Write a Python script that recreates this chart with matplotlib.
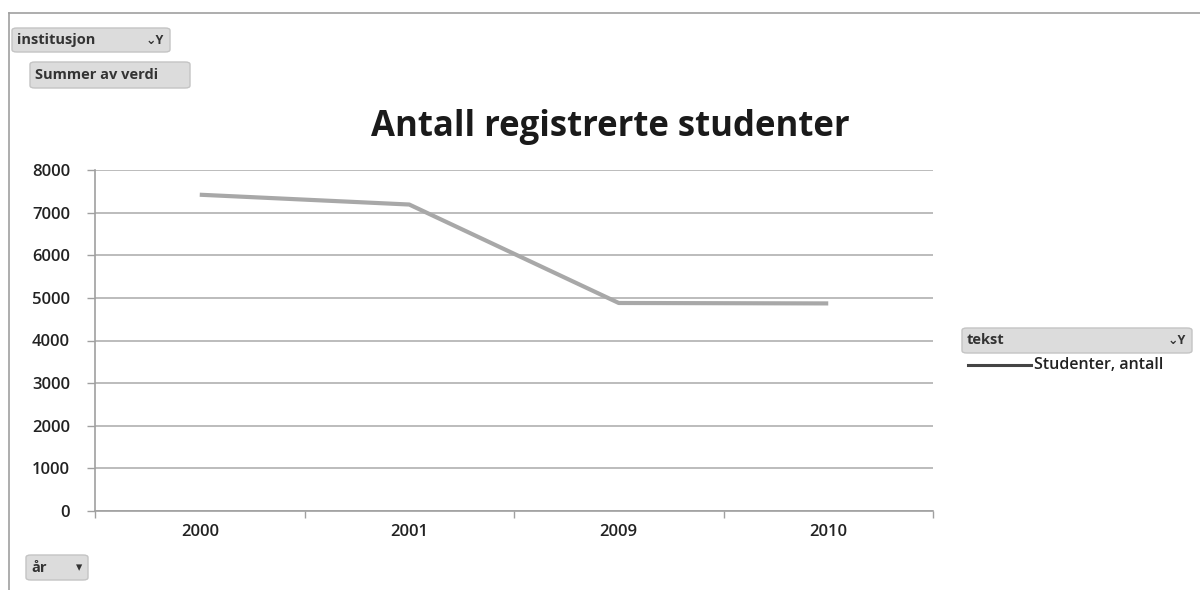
import matplotlib.pyplot as plt
import numpy as np
from matplotlib.patches import FancyBboxPatch
from matplotlib.lines import Line2D

# registrerte studenter per år
years = ["2000", "2001", "2009", "2010"]
students = [7420, 7190, 4880, 4870]
y_ticks = [0, 1000, 2000, 3000, 4000, 5000, 6000, 7000, 8000]

W, H = 1200, 590
fig = plt.figure(figsize=(W / 100, H / 100), dpi=100)
plt.rcParams['font.family'] = ['Open Sans', 'DejaVu Sans']

def fx(px):
    return px / W

def fy(py):
    return 1 - py / H

ax = fig.add_axes([fx(95), fy(511), fx(933 - 95), (511 - 170) / H])

xx = np.arange(len(years))
ax.plot(xx, students, color="#a8a8a8", linewidth=3.0, solid_capstyle="butt", zorder=3)

ax.set_xlim(-0.5, len(years) - 0.5)
ax.set_ylim(0, 8000)
ax.set_yticks(y_ticks)
ax.set_yticklabels([str(v) for v in y_ticks], fontsize=12, color="#222222", fontweight="semibold")
ax.set_xticks(xx)
ax.set_xticklabels(years, fontsize=12, color="#222222", fontweight="semibold")
ax.set_xticks(np.arange(len(years) + 1) - 0.5, minor=True)
ax.tick_params(axis="x", which="major", length=0, pad=9)
ax.tick_params(axis="x", which="minor", length=5, color="#a0a0a0", width=1)
ax.tick_params(axis="y", length=6, color="#a0a0a0", width=1, pad=12)

ax.yaxis.grid(True, color="#b0b0b0", linewidth=1.2)
ax.set_axisbelow(True)
for s in ["top", "right"]:
    ax.spines[s].set_visible(False)
for s in ["left", "bottom"]:
    ax.spines[s].set_color("#a0a0a0")
    ax.spines[s].set_linewidth(1.2)

fig.text(fx(610), fy(127), "Antall registrerte studenter", ha="center", va="center",
         fontsize=25, fontweight="bold", color="#1a1a1a")

# ramme rundt diagrammet
fig.add_artist(Line2D([fx(9), fx(9)], [fy(13), fy(590)], color="#a0a0a0", linewidth=1.2))
fig.add_artist(Line2D([fx(9), fx(1200)], [fy(13), fy(13)], color="#a0a0a0", linewidth=1.2))

def button(x0, y0, x1, y1, label, arrow=None):
    box = FancyBboxPatch((fx(x0), fy(y1)), fx(x1 - x0), (y1 - y0) / H,
                         boxstyle="round,pad=0,rounding_size=0.004",
                         facecolor="#dcdcdc", edgecolor="#c4c4c4", linewidth=1,
                         transform=fig.transFigure)
    fig.add_artist(box)
    fig.text(fx(x0 + 5), fy((y0 + y1) / 2), label, ha="left", va="center",
             fontsize=10.5, fontweight="bold", color="#333333")
    if arrow:
        fig.text(fx(x1 - 6), fy((y0 + y1) / 2), arrow, ha="right", va="center",
                 fontsize=9, fontweight="bold", color="#333333")

button(12, 28, 170, 52, "institusjon", "⌄Y")
button(30, 62, 190, 88, "Summer av verdi")
button(26, 555, 88, 580, "år", "▾")
button(962, 328, 1192, 353, "tekst", "⌄Y")

# forklaring
fig.add_artist(Line2D([fx(968), fx(1031)], [fy(365), fy(365)], color="#444444", linewidth=2.2))
fig.text(fx(1034), fy(365), "Studenter, antall", ha="left", va="center",
         fontsize=11.5, fontweight="semibold", color="#222222")

plt.savefig("out.png", dpi=100)
